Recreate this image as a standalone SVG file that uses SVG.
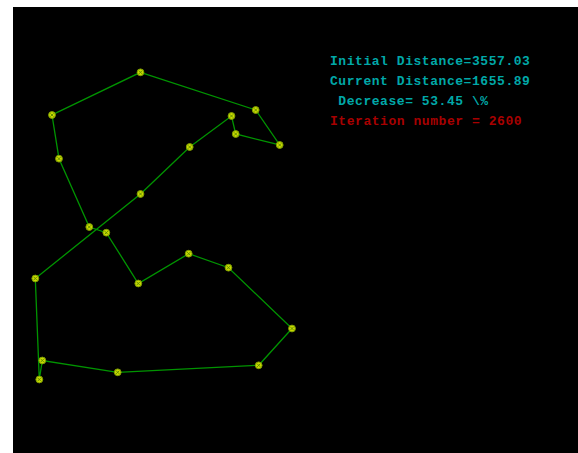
<svg xmlns="http://www.w3.org/2000/svg" width="578" height="453" viewBox="0 0 578 453">
<style>
.t{font-family:"Liberation Mono","DejaVu Sans Mono",monospace;font-size:13px;letter-spacing:0.55px;font-weight:bold}
.c{fill:#00a8a8}
.r{fill:#a80000}
.p{fill:#c8d800;stroke:#7a9a00;stroke-width:1}
</style>
<defs>
<g id="dot"><circle r="3.4" class="p"/><path d="M-1.6,-1.6L1.6,1.6M1.6,-1.6L-1.6,1.6" stroke="#5a8a00" stroke-width="0.9"/></g>
</defs>
<rect x="0" y="0" width="578" height="453" fill="#ffffff"/>
<rect x="13" y="7" width="565" height="446" fill="#000000"/>
<g id="connectors">
<polygon points="140.5,72.3 255.7,110 279.7,145 235.7,134 231.5,116 189.7,147 140.5,194 35.3,278.5 39.3,379.5 42.3,360.5 117.7,372.3 258.7,365.3 292,328.5 228.5,267.7 188.7,253.7 138.3,283.5 106.3,232.7 89.3,227 59,158.7 52,115" fill="none" stroke="#009400" stroke-width="1.3"/>
</g>
<g id="n1"><use href="#dot" x="140.5" y="72.3"/></g>
<g id="n2"><use href="#dot" x="255.7" y="110"/></g>
<g id="n3"><use href="#dot" x="279.7" y="145"/></g>
<g id="n4"><use href="#dot" x="235.7" y="134"/></g>
<g id="n5"><use href="#dot" x="231.5" y="116"/></g>
<g id="n6"><use href="#dot" x="189.7" y="147"/></g>
<g id="n7"><use href="#dot" x="140.5" y="194"/></g>
<g id="n8"><use href="#dot" x="35.3" y="278.5"/></g>
<g id="n9"><use href="#dot" x="39.3" y="379.5"/></g>
<g id="n10"><use href="#dot" x="42.3" y="360.5"/></g>
<g id="n11"><use href="#dot" x="117.7" y="372.3"/></g>
<g id="n12"><use href="#dot" x="258.7" y="365.3"/></g>
<g id="n13"><use href="#dot" x="292" y="328.5"/></g>
<g id="n14"><use href="#dot" x="228.5" y="267.7"/></g>
<g id="n15"><use href="#dot" x="188.7" y="253.7"/></g>
<g id="n16"><use href="#dot" x="138.3" y="283.5"/></g>
<g id="n17"><use href="#dot" x="106.3" y="232.7"/></g>
<g id="n18"><use href="#dot" x="89.3" y="227"/></g>
<g id="n19"><use href="#dot" x="59" y="158.7"/></g>
<g id="n20"><use href="#dot" x="52" y="115"/></g>
<g id="labels">
<text class="t c" x="330" y="64.5">Initial Distance=3557.03</text>
<text class="t c" x="330" y="84.5">Current Distance=1655.89</text>
<text class="t c" x="330" y="104.5" xml:space="preserve"> Decrease= 53.45 \%</text>
<text class="t r" x="330" y="124.5">Iteration number = 2600</text>
</g>
</svg>
